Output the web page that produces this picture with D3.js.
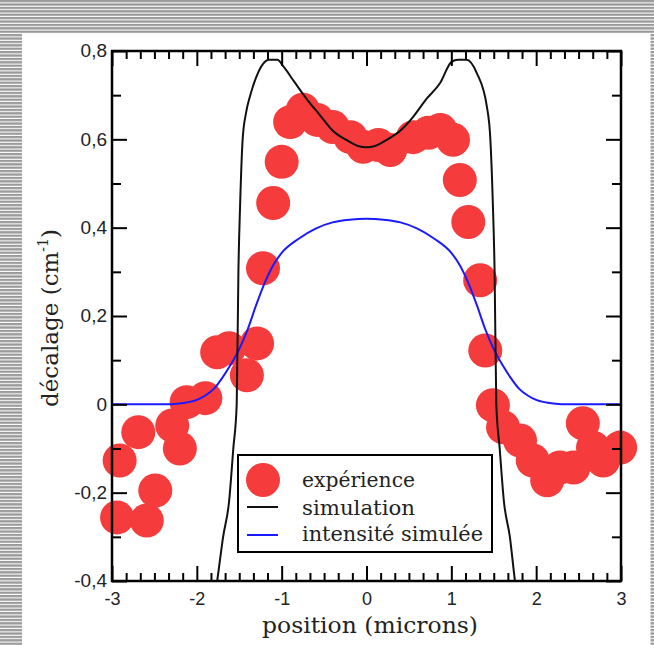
<!DOCTYPE html>
<html>
<head>
<meta charset="utf-8">
<script src="https://cdn.jsdelivr.net/npm/d3@7"></script>
<style>
  html, body { margin: 0; padding: 0; background: #fff; }
  svg { display: block; }
</style>
</head>
<body>
<div id="chart"></div>
<script>
const expX = [-2.94, -2.91, -2.69, -2.59, -2.49, -2.29, -2.20, -2.12, -1.90, -1.76, -1.62, -1.41, -1.29,
  -1.22, -1.10, -1.00, -0.90, -0.75, -0.58, -0.40, -0.19, -0.04, 0.14, 0.28, 0.55, 0.73, 0.87, 1.02,
  1.10, 1.20, 1.34, 1.40, 1.49, 1.61, 1.81, 1.96, 2.13, 2.28, 2.44, 2.55, 2.67, 2.79, 2.99];
const expY = [-0.256, -0.127, -0.063, -0.263, -0.195, -0.048, -0.100, 0.005, 0.014, 0.118, 0.127, 0.066, 0.138,
  0.308, 0.456, 0.549, 0.639, 0.667, 0.644, 0.628, 0.605, 0.583, 0.587, 0.576, 0.605, 0.615, 0.621, 0.599,
  0.508, 0.413, 0.281, 0.122, -0.002, -0.052, -0.082, -0.127, -0.172, -0.143, -0.143, -0.043, -0.098, -0.127, -0.098];

// courbe simulée (noire)
const simX = [-1.85, -1.76, -1.69, -1.62, -1.57, -1.53, -1.51, -1.49, -1.46, -1.42, -1.37, -1.28, -1.20, -1.15, -1.05,
  -0.98, -0.85, -0.70, -0.55, -0.40, -0.25, -0.10, 0, 0.10, 0.25, 0.40, 0.55, 0.70, 0.87, 1.00, 1.08, 1.18,
  1.30, 1.42, 1.46, 1.49, 1.51, 1.53, 1.57, 1.62, 1.69, 1.75, 1.85];
const simY = [-0.52, -0.40, -0.30, -0.22, -0.10, 0.00, 0.30, 0.45, 0.60, 0.66, 0.70, 0.75, 0.775, 0.78, 0.78,
  0.765, 0.73, 0.69, 0.655, 0.62, 0.60, 0.585, 0.582, 0.585, 0.60, 0.62, 0.651, 0.69, 0.728, 0.775, 0.78, 0.78,
  0.75, 0.673, 0.60, 0.45, 0.30, 0.00, -0.10, -0.22, -0.30, -0.40, -0.52];

// intensité simulée (bleue)
const intX = [-3, -2.4, -2.2, -2.0, -1.9, -1.8, -1.7, -1.6, -1.5, -1.4, -1.3, -1.2, -1.1, -1.0, -0.8, -0.6, -0.4, -0.2,
  0, 0.2, 0.4, 0.6, 0.8, 1.0, 1.1, 1.2, 1.3, 1.4, 1.5, 1.6, 1.7, 1.8, 1.9, 2.0, 2.2, 2.4, 3];
const intY = [0, 0, 0.002, 0.01, 0.02, 0.035, 0.06, 0.09, 0.125, 0.17, 0.225, 0.275, 0.315, 0.343, 0.375, 0.398, 0.412, 0.418,
  0.42, 0.418, 0.412, 0.398, 0.375, 0.343, 0.315, 0.275, 0.225, 0.17, 0.125, 0.09, 0.06, 0.035, 0.02, 0.01, 0.002, 0, 0];

const xTicks = [-3, -2, -1, 0, 1, 2, 3];
const xTickLabels = ["-3", "-2", "-1", "0", "1", "2", "3"];
const yTicks = [-0.4, -0.2, 0, 0.2, 0.4, 0.6, 0.8];
const yTickLabels = ["-0,4", "-0,2", "0", "0,2", "0,4", "0,6", "0,8"];
const legendLabels = ["expérience", "simulation", "intensité simulée"];

const W = 654, H = 645;
const plot = { left: 112, right: 621, top: 51, bottom: 581 };
const red = "#f53b3b";

const svg = d3.select("#chart").append("svg").attr("width", W).attr("height", H);

// cadre rayé de la page
const defs = svg.append("defs");
const pat = defs.append("pattern").attr("id", "stripes").attr("patternUnits", "userSpaceOnUse")
  .attr("width", 4).attr("height", 3.4);
pat.append("rect").attr("width", 4).attr("height", 3.4).attr("fill", "#fff");
pat.append("rect").attr("width", 4).attr("height", 2.3).attr("fill", "#9a9a9a");
svg.append("rect").attr("width", W).attr("height", H).attr("fill", "url(#stripes)");
svg.append("rect").attr("x", 22).attr("y", 34).attr("width", 628.5).attr("height", H - 34).attr("fill", "#fff");

const x = d3.scaleLinear().domain([-3, 3]).range([plot.left, plot.right]);
const y = d3.scaleLinear().domain([-0.4, 0.8]).range([plot.bottom, plot.top]);

defs.append("clipPath").attr("id", "clip").append("rect")
  .attr("x", plot.left).attr("y", plot.top)
  .attr("width", plot.right - plot.left).attr("height", plot.bottom - plot.top);

// points
svg.append("g").selectAll("circle").data(expX).enter().append("circle")
  .attr("cx", d => x(d)).attr("cy", (_, i) => y(expY[i])).attr("r", 17).attr("fill", red);

const line = d3.line().x(d => x(d[0])).y(d => y(d[1])).curve(d3.curveMonotoneX);
const g = svg.append("g").attr("clip-path", "url(#clip)");
g.append("path").datum(intX.map((d, i) => [d, intY[i]])).attr("d", line)
  .attr("fill", "none").attr("stroke", "#1a1aff").attr("stroke-width", 2);
g.append("path").datum(simX.map((d, i) => [d, simY[i]])).attr("d", line)
  .attr("fill", "none").attr("stroke", "#111").attr("stroke-width", 2);

// axes
const minorX = d3.range(-18, 19).filter(i => i % 6 !== 0).map(i => i / 6);
const minorY = [-0.3, -0.1, 0.1, 0.3, 0.5, 0.7];
function addAxis(axis, transform) {
  const a = svg.append("g").attr("transform", transform).call(axis);
  a.select(".domain").remove();
  a.selectAll("line").attr("stroke", "#000").attr("stroke-width", 2);
  return a;
}
const fmtX = d => xTickLabels[xTicks.indexOf(d)];
const fmtY = d => yTickLabels[yTicks.findIndex(v => Math.abs(v - d) < 1e-9)];

const xb = addAxis(d3.axisBottom(x).tickValues(xTicks).tickSize(-15).tickFormat(fmtX), `translate(0,${plot.bottom})`);
addAxis(d3.axisBottom(x).tickValues(minorX).tickSize(-8).tickFormat(""), `translate(0,${plot.bottom})`);
addAxis(d3.axisTop(x).tickValues(xTicks).tickSize(-15).tickFormat(""), `translate(0,${plot.top})`);
addAxis(d3.axisTop(x).tickValues(minorX).tickSize(-8).tickFormat(""), `translate(0,${plot.top})`);
const yl = addAxis(d3.axisLeft(y).tickValues(yTicks).tickSize(-15).tickFormat(fmtY), `translate(${plot.left},0)`);
addAxis(d3.axisLeft(y).tickValues(minorY).tickSize(-9).tickFormat(""), `translate(${plot.left},0)`);
addAxis(d3.axisRight(y).tickValues(yTicks).tickSize(-15).tickFormat(""), `translate(${plot.right},0)`);
addAxis(d3.axisRight(y).tickValues(minorY).tickSize(-9).tickFormat(""), `translate(${plot.right},0)`);

xb.selectAll("text").attr("font-family", "'Liberation Sans Narrow', 'Arial Narrow', sans-serif")
  .attr("font-size", 18).attr("fill", "#222").attr("dy", "0.32em").attr("y", 18);
yl.selectAll("text").attr("font-family", "'Liberation Sans Narrow', 'Arial Narrow', sans-serif")
  .attr("font-size", 19).attr("fill", "#222").attr("x", -5).attr("dy", "0.3em");

svg.append("rect").attr("x", plot.left).attr("y", plot.top)
  .attr("width", plot.right - plot.left).attr("height", plot.bottom - plot.top)
  .attr("fill", "none").attr("stroke", "#000").attr("stroke-width", 2.5);

// titres des axes
svg.append("text").attr("x", 370).attr("y", 633).attr("text-anchor", "middle")
  .attr("font-family", "'DejaVu Serif', serif").attr("font-size", 23).attr("fill", "#222")
  .attr("textLength", 216).attr("lengthAdjust", "spacingAndGlyphs")
  .text("position (microns)");

const yt = svg.append("text").attr("transform", "translate(58,318) rotate(-90)").attr("text-anchor", "middle")
  .attr("font-family", "'DejaVu Serif', serif").attr("font-size", 23).attr("fill", "#222");
yt.append("tspan").text("décalage (cm");
yt.append("tspan").attr("font-size", 14).attr("dy", -10).text("-1");
yt.append("tspan").attr("dy", 10).text(")");

// légende
const lg = svg.append("g");
lg.append("rect").attr("x", 238).attr("y", 455).attr("width", 254).attr("height", 97)
  .attr("fill", "#fff").attr("stroke", "#000").attr("stroke-width", 2);
lg.append("circle").attr("cx", 263).attr("cy", 480).attr("r", 17).attr("fill", red);
lg.append("line").attr("x1", 247).attr("x2", 278).attr("y1", 507).attr("y2", 507).attr("stroke", "#111").attr("stroke-width", 2);
lg.append("line").attr("x1", 247).attr("x2", 278).attr("y1", 535).attr("y2", 535).attr("stroke", "#1a1aff").attr("stroke-width", 2);
const lw = [113, 113, 181];
const lb = [487, 515, 541];
legendLabels.forEach((t, i) => {
  lg.append("text").attr("x", 302).attr("y", lb[i])
    .attr("font-family", "'DejaVu Serif', serif").attr("font-size", 20).attr("fill", "#222")
    .attr("textLength", lw[i]).attr("lengthAdjust", "spacingAndGlyphs").text(t);
});
</script>
</body>
</html>
